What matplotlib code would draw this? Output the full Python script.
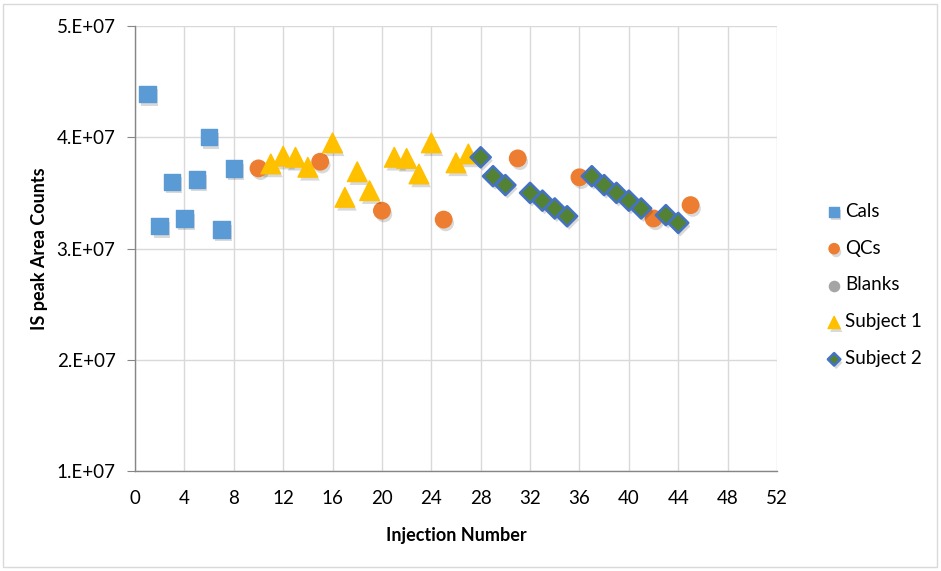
import matplotlib
matplotlib.use("Agg")
import matplotlib.pyplot as plt
import matplotlib.patheffects as pe
from matplotlib.patches import Rectangle

plt.rcParams['font.family'] = ['Lato', 'DejaVu Sans']

cals_x = [1, 2, 3, 4, 5, 6, 7, 8]
cals_y = [4.39e7, 3.20e7, 3.60e7, 3.27e7, 3.62e7, 4.00e7, 3.17e7, 3.72e7]

qcs_x = [10, 15, 20, 25, 31, 36, 42, 45]
qcs_y = [3.72e7, 3.78e7, 3.34e7, 3.26e7, 3.81e7, 3.64e7, 3.27e7, 3.39e7]

blanks_x = []
blanks_y = []

subj1_x = [11, 12, 13, 14, 16, 17, 18, 19, 21, 22, 23, 24, 26, 27]
subj1_y = [3.76e7, 3.83e7, 3.82e7, 3.73e7, 3.95e7, 3.46e7, 3.69e7, 3.52e7,
           3.82e7, 3.81e7, 3.67e7, 3.95e7, 3.77e7, 3.85e7]

subj2_x = [28, 29, 30, 32, 33, 34, 35, 37, 38, 39, 40, 41, 43, 44]
subj2_y = [3.82e7, 3.65e7, 3.57e7, 3.50e7, 3.43e7, 3.36e7, 3.29e7,
           3.65e7, 3.57e7, 3.50e7, 3.43e7, 3.36e7, 3.30e7, 3.23e7]

x_ticks = [0, 4, 8, 12, 16, 20, 24, 28, 32, 36, 40, 44, 48, 52]
y_ticks = [1e7, 2e7, 3e7, 4e7, 5e7]
y_tick_labels = ['1.E+07', '2.E+07', '3.E+07', '4.E+07', '5.E+07']

W, H = 941, 571
fig = plt.figure(figsize=(W / 100, H / 100), dpi=100)
fig.patches.append(Rectangle((3 / W, 4 / H), (937 - 3) / W, (567 - 4) / H,
                             transform=fig.transFigure, fill=False,
                             edgecolor='#d9d9d9', linewidth=1.0))

ax = fig.add_axes([135 / W, 1 - 471 / H, (777 - 135) / W, (471 - 26) / H])

shadow = [pe.SimplePatchShadow(offset=(1.5, -2.5), shadow_rgbFace='black', alpha=0.15), pe.Normal()]

s1 = ax.scatter(cals_x, cals_y, marker='s', s=140, color='#5B9BD5', label='Cals', zorder=3)
s2 = ax.scatter(qcs_x, qcs_y, marker='o', s=140, color='#ED7D31', label='QCs', zorder=3)
s3 = ax.scatter(blanks_x, blanks_y, marker='o', s=140, color='#A5A5A5', label='Blanks', zorder=3)
s4 = ax.scatter(subj1_x, subj1_y, marker='^', s=200, color='#FFC000', label='Subject 1', zorder=3)
s5 = ax.scatter(subj2_x, subj2_y, marker='D', s=105, facecolor='#548235',
                edgecolor='#4472C4', linewidths=1.8, label='Subject 2', zorder=4)
for s in (s1, s2, s4, s5):
    s.set_path_effects(shadow)

ax.set_xlim(0, 52)
ax.set_ylim(1e7, 5e7)
ax.set_xticks(x_ticks)
ax.set_yticks(y_ticks)
ax.set_yticklabels(y_tick_labels)
ax.grid(True, color='#d9d9d9', linewidth=1.0, zorder=0)
ax.set_axisbelow(True)
for sp in ['top', 'right']:
    ax.spines[sp].set_visible(False)
for sp in ['left', 'bottom']:
    ax.spines[sp].set_color('#868686')
    ax.spines[sp].set_linewidth(1.0)
ax.tick_params(axis='y', length=6, color='#868686', labelsize=13.5, pad=8)
ax.tick_params(axis='x', length=0, labelsize=13.5, pad=14)

ax.set_xlabel('Injection Number', fontsize=13, fontweight='bold', labelpad=14)
ax.set_ylabel('IS peak Area Counts', fontsize=13, fontweight='bold', labelpad=6)

leg = fig.legend(handles=[s1, s2, s3, s4, s5], loc='center left',
                 bbox_to_anchor=(806 / W, 1 - 285 / H), frameon=False,
                 fontsize=13.5, labelspacing=1.06, handletextpad=0.0,
                 markerscale=0.62, handlelength=1.2)

fig.savefig('out.png', dpi=100)
